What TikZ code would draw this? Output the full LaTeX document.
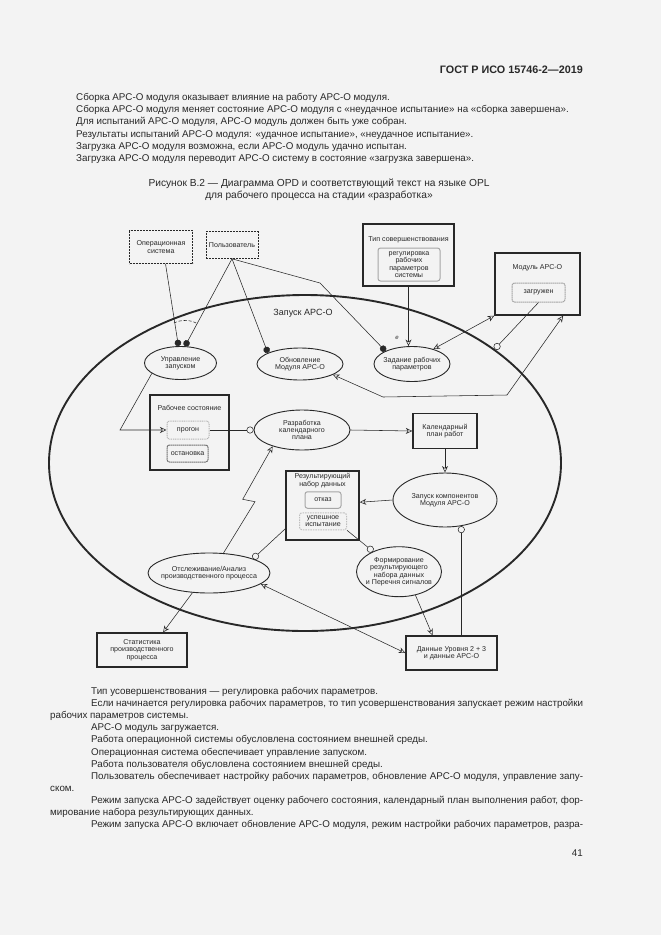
\documentclass[tikz,border=0pt]{standalone}
\usepackage{fontspec}
\setmainfont{Liberation Sans}
\usetikzlibrary{shapes.geometric,arrows.meta,calc}
\definecolor{paper}{RGB}{243,243,243}
\definecolor{ink}{RGB}{40,40,40}
\begin{document}
\begin{tikzpicture}[x=1pt,y=-1pt,
  txt/.style={font=\fontsize{9.8}{11.5}\selectfont, text=ink, anchor=base west, inner sep=0pt},
  dtxt/.style={font=\fontsize{7.1}{7.4}\selectfont, text=ink, align=center, inner sep=0pt},
  proc/.style={ellipse, draw=ink, line width=0.9pt, inner sep=0pt},
  obj/.style={rectangle, draw=ink, line width=1.4pt, inner sep=1pt, font=\fontsize{7.1}{7.4}\selectfont, text=ink, align=center},
  envobj/.style={rectangle, draw=ink, line width=0.6pt, dash pattern=on 2pt off 1pt, inner sep=1pt, font=\fontsize{7.1}{7.4}\selectfont, text=ink, align=center},
  state/.style={rectangle, rounded corners=2.5pt, draw=black!45, line width=1pt, dash pattern=on 1.6pt off 0.5pt, inner sep=1pt, font=\fontsize{7.1}{7.4}\selectfont, text=ink, align=center},
  link/.style={draw=ink, line width=0.55pt},
  res/.style={link, -{Stealth[open,length=6.5pt,width=6pt,inset=2pt]}},
  eff/.style={link, {Stealth[open,length=6.5pt,width=6pt,inset=2pt]}-{Stealth[open,length=6.5pt,width=6pt,inset=2pt]}},
  agent/.style={link, -{Circle[length=6.5pt]}},
  inst/.style={link, -{Circle[open,length=7pt]}}
]
\fill[paper] (0,0) rectangle (661,935);
\useasboundingbox (0,0) rectangle (661,935);

% header
\node[anchor=base east, inner sep=0pt, font=\fontsize{10.8}{12}\selectfont\bfseries, text=ink] (hdr) at (583,73.5) {ГОСТ Р ИСО 15746-2—2019};

% top text
\node[txt] (t1) at (76,100.5) {Сборка АРС-О модуля оказывает влияние на работу АРС-О модуля.};
\node[txt] (t2) at (76,112.7) {Сборка АРС-О модуля меняет состояние АРС-О модуля с «неудачное испытание» на «сборка завершена».};
\node[txt] (t3) at (76,124.9) {Для испытаний АРС-О модуля, АРС-О модуль должен быть уже собран.};
\node[txt] (t4) at (76,137.1) {Результаты испытаний АРС-О модуля: «удачное испытание», «неудачное испытание».};
\node[txt] (t5) at (76,149.3) {Загрузка АРС-О модуля возможна, если АРС-О модуль удачно испытан.};
\node[txt] (t6) at (76,161.5) {Загрузка АРС-О модуля переводит АРС-О систему в состояние «загрузка завершена».};

% caption
\node[txt, anchor=base, font=\fontsize{10.2}{12}\selectfont] (c1) at (319,186.5) {Рисунок В.2 — Диаграмма OPD и соответствующий текст на языке OPL};
\node[txt, anchor=base, font=\fontsize{10.2}{12}\selectfont] (c2) at (319,198.5) {для рабочего процесса на стадии «разработка»};

% ===== diagram =====
\node[proc, line width=1.9pt, minimum width=512, minimum height=336] (launch) at (305,463) {};
\node[font=\fontsize{9}{10}\selectfont, text=ink, inner sep=0pt] (launchlbl) at (303,313) {Запуск АРС-О};

\node[envobj, minimum width=63, minimum height=33] (os) at (161,247) {Операционная\\система};
\node[envobj, minimum width=52, minimum height=27] (user) at (232,245) {Пользователь};

\node[obj, minimum width=91, minimum height=62] (tip) at (408.5,255) {};
\node[dtxt] (tiptitle) at (408.5,240) {Тип совершенствования};
\node[state, draw=black!35, dash pattern=, minimum width=62, minimum height=33] (reg) at (409,264.5) {регулировка\\рабочих\\параметров\\системы};

\node[obj, minimum width=85, minimum height=62] (module) at (537.5,284) {};
\node[dtxt] (modtitle) at (537.5,268) {Модуль АРС-О};
\node[state, draw=black!35, minimum width=53, minimum height=19] (loaded) at (538.5,292.5) {загружен};

\node[proc, minimum width=72, minimum height=33] (ctrl) at (180.5,363) {};
\node[dtxt] (ctrlt) at (ctrl) {Управление\\запуском};
\node[proc, minimum width=86, minimum height=32] (upd) at (300,364) {};
\node[dtxt] (updt) at (upd) {Обновление\\Модуля АРС-О};
\node[proc, minimum width=76, minimum height=35] (set) at (412,364) {};
\node[dtxt] (sett) at (set) {Задание рабочих\\параметров};
\node[proc, minimum width=96, minimum height=40] (plan) at (302,430) {};
\node[dtxt] (plant) at (plan) {Разработка\\календарного\\плана};
\node[proc, minimum width=104, minimum height=54] (comp) at (445,500) {};
\node[dtxt] (compt) at (comp) {Запуск компонентов\\Модуля АРС-О};
\node[proc, minimum width=122, minimum height=40] (mon) at (209,573) {};
\node[dtxt] (mont) at (mon) {Отслеживание/Анализ\\производственного процесса};
\node[proc, minimum width=85, minimum height=50] (form) at (399,571.7) {};
\node[dtxt] (formt) at (form) {Формирование\\результирующего\\набора данных\\и Перечня сигналов};

\node[obj, minimum width=79, minimum height=75] (ws) at (189.5,432.5) {};
\node[dtxt] (wst) at (189.5,408) {Рабочее состояние};
\node[state, draw=black!30, dash pattern=on 1pt off 0.8pt, minimum width=42, minimum height=18] (run) at (188,430) {прогон};
\node[state, draw=black!55, minimum width=41, minimum height=17] (stop) at (187.5,453.5) {остановка};

\node[obj, minimum width=64, minimum height=35] (cal) at (445,431) {Календарный\\план работ};

\node[obj, minimum width=73, minimum height=69] (result) at (322.5,505.5) {};
\node[dtxt] (rest) at (322.5,480.5) {Результирующий\\набор данных};
\node[state, draw=black!35, dash pattern=, minimum width=36, minimum height=16.5] (fail) at (323,500) {отказ};
\node[state, draw=black!25, dash pattern=on 1.5pt off 1pt, minimum width=47, minimum height=17] (succ) at (323,521.3) {успешное\\испытание};

\node[obj, minimum width=90, minimum height=34] (stat) at (142,650) {Статистика\\производственного\\процесса};
\node[obj, minimum width=91, minimum height=34] (data) at (451.5,653) {Данные Уровня 2 + 3\\и данные АРС-О};

% ===== links =====
\draw[agent] (os.-75) -- (ctrl.97);
\draw[agent] (user.south) -- (ctrl.75);
\draw[link, densely dashed] (174,323) .. controls (181,319.5) and (190,319.5) .. (197,323.5);
\draw[agent] (user.south) -- (upd.161);
\coordinate (ubend) at (320,283);
\draw[agent] (user.south) -- (ubend) -- (set.154);

\draw[res] (tip.south) -- (set.north -| tip.south);
\node[font=\itshape\fontsize{6}{6}\selectfont, text=ink, inner sep=0pt] (elbl) at (397,338) {e};

\draw[eff] (module.south west) -- (set.35);
\draw[inst] (loaded.south) -- (launch.31);
\coordinate (mb1) at (507,395);
\coordinate (mb2) at (383,397);
\draw[eff] (module.-51) -- (mb1) -- (mb2) -- (upd.-18);

\coordinate (cb) at (120,430);
\draw[res] (ctrl.200) -- (cb) -- (run.west);
\draw[inst] (run.east) -- (plan.west);
\draw[res] (plan.east) -- (cal.west);
\draw[res] (cal.south) -- (comp.north);
\draw[res] (comp.west) -- (result.5);
\draw[inst] (data.north -| comp.-58) -- (comp.-58);
\draw[inst] (succ.south east) -- (form.142);
\draw[inst] (result.212) -- (mon.18);
\draw[res] (form.-55) -- (data.137);
\draw[res] (mon.-130) -- (stat.40);
\draw[eff] (data.west) -- (mon.-12);
\coordinate (z1) at (255,501.7);
\coordinate (z2) at (242.7,499.3);
\draw[res] (mon.54) -- (z1) -- (z2) -- (plan.209);

% ===== bottom text =====
\node[txt] (b1) at (91,694.5) {Тип усовершенствования — регулировка рабочих параметров.};
\node[txt] (b2) at (91,706.6) {\makebox[492pt][s]{Если начинается регулировка рабочих параметров, то тип усовершенствования запускает режим настройки}};
\node[txt] (b3) at (50,718.7) {рабочих параметров системы.};
\node[txt] (b4) at (91,730.8) {АРС-О модуль загружается.};
\node[txt] (b5) at (91,742.9) {Работа операционной системы обусловлена состоянием внешней среды.};
\node[txt] (b6) at (91,755.0) {Операционная система обеспечивает управление запуском.};
\node[txt] (b7) at (91,767.1) {Работа пользователя обусловлена состоянием внешней среды.};
\node[txt] (b8) at (91,779.2) {\makebox[492pt][s]{Пользователь обеспечивает настройку рабочих параметров, обновление АРС-О модуля, управление запу-}};
\node[txt] (b9) at (50,791.3) {ском.};
\node[txt] (b10) at (91,803.4) {\makebox[492pt][s]{Режим запуска АРС-О задействует оценку рабочего состояния, календарный план выполнения работ, фор-}};
\node[txt] (b11) at (50,815.5) {мирование набора результирующих данных.};
\node[txt] (b12) at (91,827.6) {\makebox[492pt][s]{Режим запуска АРС-О включает обновление АРС-О модуля, режим настройки рабочих параметров, разра-}};
\node[txt, anchor=base east] (pg) at (583,856.5) {41};
\end{tikzpicture}
\end{document}
